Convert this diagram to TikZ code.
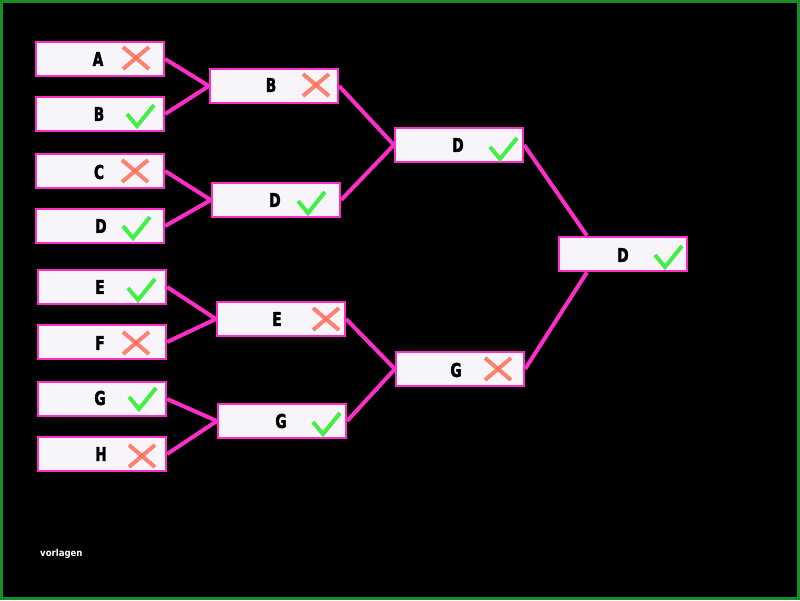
\documentclass[tikz,border=0pt]{standalone}
\usepackage{fontspec}
\setmainfont{DejaVu Sans Condensed}
\usetikzlibrary{calc}
\definecolor{pinkc}{RGB}{255,45,200}
\definecolor{boxfill}{RGB}{248,245,250}
\definecolor{okc}{RGB}{68,238,68}
\definecolor{noc}{RGB}{255,110,90}
\definecolor{frame}{RGB}{25,140,40}
\begin{document}
\begin{tikzpicture}[x=1pt,y=-1pt,
  team/.style={draw=pinkc,fill=boxfill,line width=2.2pt,minimum width=128pt,minimum height=34.5pt,inner sep=0pt},
  wire/.style={draw=pinkc,line width=4pt},
  lbl/.style={font=\fontsize{19}{19}\selectfont\bfseries\addfontfeature{FakeStretch=0.8,FakeBold=2},text=black,inner sep=0pt},
  tick/.style={draw=okc,line width=4pt},
  crossm/.style={draw=noc,line width=4pt,draw opacity=0.85}]
\fill[black] (0,0) rectangle (800,600);
\draw[frame,line width=3pt] (1.5,1.5) rectangle (798.5,598.5);
\useasboundingbox (0,0) rectangle (800,600);
\newcommand{\okmark}[1]{\draw[tick] ($(#1)+(-13,-1)$) -- ($(#1)+(-3,11)$) -- ($(#1)+(14,-10)$);}
\newcommand{\nomark}[1]{\draw[crossm] ($(#1)+(-13,-11)$) -- ($(#1)+(13,11)$); \draw[crossm] ($(#1)+(13,-11)$) -- ($(#1)+(-13,11)$);}
% round 1
\node[team] (a1) at (100,59) {}; \node[lbl] at (98,59) {A}; \coordinate (ma1) at (136,58); \nomark{ma1}
\node[team] (b1) at (100,114) {}; \node[lbl] at (99,114) {B}; \coordinate (mb1) at (140,115); \okmark{mb1}
\node[team] (c1) at (100,171) {}; \node[lbl] at (99,172) {C}; \coordinate (mc1) at (135,171); \nomark{mc1}
\node[team] (d1) at (100,226) {}; \node[lbl] at (101,226) {D}; \coordinate (md1) at (136,227); \okmark{md1}
\node[team] (e1) at (102,287) {}; \node[lbl] at (100,287) {E}; \coordinate (me1) at (141,289); \okmark{me1}
\node[team] (f1) at (102,342) {}; \node[lbl] at (100,343) {F}; \coordinate (mf1) at (136,343); \nomark{mf1}
\node[team] (g1) at (102,399) {}; \node[lbl] at (100,398) {G}; \coordinate (mg1) at (142,398); \okmark{mg1}
\node[team] (h1) at (102,454) {}; \node[lbl] at (101,454) {H}; \coordinate (mh1) at (142,456); \nomark{mh1}
% round 2
\node[team] (b2) at (274,86) {}; \node[lbl] at (271,85) {B}; \coordinate (mb2) at (316,85); \nomark{mb2}
\node[team] (d2) at (276,200) {}; \node[lbl] at (275,200) {D}; \coordinate (md2) at (311,202); \okmark{md2}
\node[team] (e2) at (281,319) {}; \node[lbl] at (277,319) {E}; \coordinate (me2) at (326,319); \nomark{me2}
\node[team] (g2) at (282,421) {}; \node[lbl] at (281,421) {G}; \coordinate (mg2) at (326,423); \okmark{mg2}
% round 3
\node[team] (d3) at (459,145) {}; \node[lbl] at (458,145) {D}; \coordinate (md3) at (503,148); \okmark{md3}
\node[team] (g3) at (460,369) {}; \node[lbl] at (456,370) {G}; \coordinate (mg3) at (498,369); \nomark{mg3}
% final
\node[team] (fin) at (623,254) {}; \node[lbl] at (623,255) {D}; \coordinate (mfin) at (668,256); \okmark{mfin}
% connectors
\draw[wire] (a1.east) -- (b2.west);
\draw[wire] (b1.east) -- (b2.west);
\draw[wire] (c1.east) -- (d2.west);
\draw[wire] (d1.east) -- (d2.west);
\draw[wire] (e1.east) -- (e2.west);
\draw[wire] (f1.east) -- (e2.west);
\draw[wire] (g1.east) -- (g2.west);
\draw[wire] (h1.east) -- (g2.west);
\draw[wire] (b2.east) -- (d3.west);
\draw[wire] (d2.east) -- (d3.west);
\draw[wire] (e2.east) -- (g3.west);
\draw[wire] (g2.east) -- (g3.west);
\coordinate (fintop) at ($(fin.north west)+(29,0)$);
\coordinate (finbot) at ($(fin.south west)+(29,0)$);
\draw[wire] (d3.east) -- (fintop);
\draw[wire] (g3.east) -- (finbot);
\node[text=white,font=\fontsize{9.5}{9.5}\selectfont\bfseries,anchor=west,inner sep=0pt] (note) at (40,554) {vorlagen};
\end{tikzpicture}
\end{document}
